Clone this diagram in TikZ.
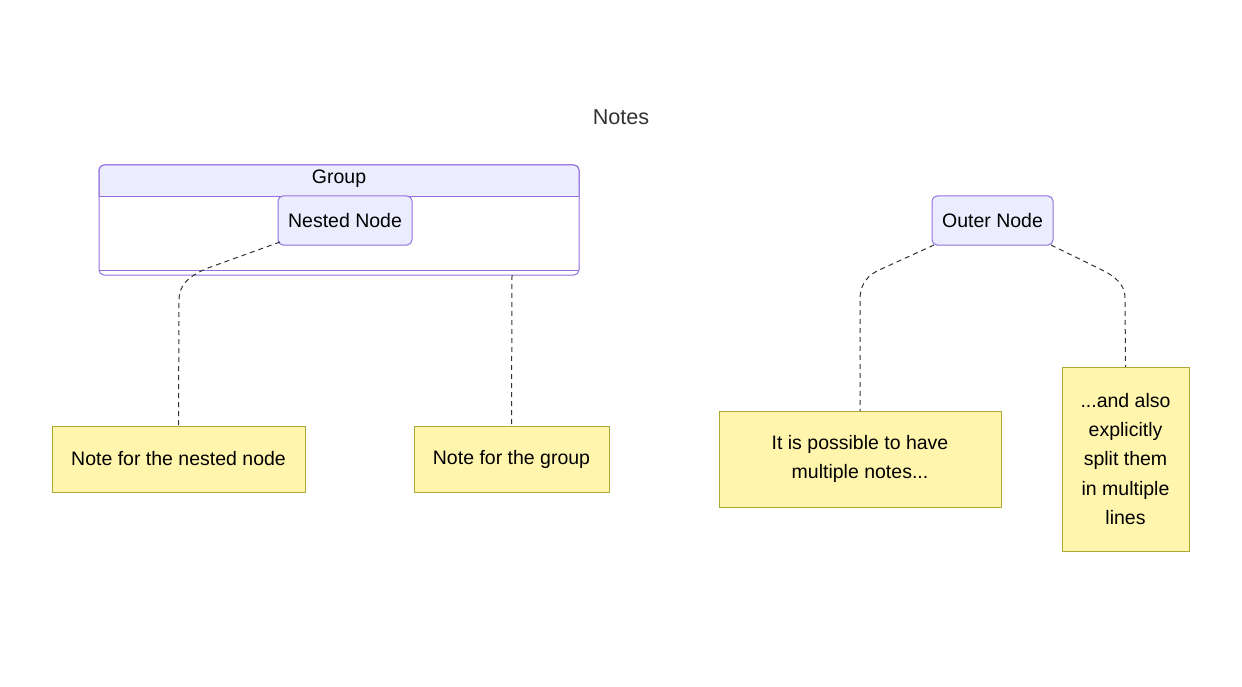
\documentclass[tikz,border=0pt]{standalone}
\usepackage{fontspec}
\setmainfont{Liberation Sans}
\definecolor{nodefill}{HTML}{ECECFF}
\definecolor{nodeborder}{HTML}{9370DB}
\definecolor{notefill}{HTML}{FFF5AD}
\definecolor{noteborder}{HTML}{AAAA33}
\definecolor{txt}{HTML}{333333}
\tikzset{
  x=1pt,y=-1pt,
  every node/.style={font=\fontsize{19.5}{29.3}\selectfont, inner sep=0pt, outer sep=0pt},
  nodebox/.style={draw=nodeborder, fill=nodefill, line width=1pt, rounded corners=5pt, text=black},
  notebox/.style={draw=noteborder, fill=notefill, line width=1pt, text=black, align=center},
  conn/.style={draw=txt, line width=1pt, dash pattern=on 5pt off 4pt}
}
\begin{document}
\begin{tikzpicture}
\useasboundingbox (0,0) rectangle (1242,687);
% title
\node[text=txt, font=\fontsize{21.6}{26}\selectfont] (title) at (621,117) {Notes};
% group
\draw[draw=nodeborder, fill=white, line width=1pt, rounded corners=5pt] (99,165) rectangle (579,275);
\fill[nodefill, rounded corners=5pt] (99.5,197) -- (99.5,165.5) -- (578.5,165.5) -- (578.5,197) -- cycle;
\fill[nodefill] (99.5,185) rectangle (578.5,197);
\draw[draw=nodeborder, line width=1pt, rounded corners=5pt] (99,197) -- (99,165) -- (579,165) -- (579,197);
\draw[draw=nodeborder, line width=1pt] (99,197) -- (579,197);
\draw[draw=nodeborder, line width=1pt] (99,270) -- (579,270);
\node[text=black] (grouplabel) at (339,179) {Group};
\coordinate (groupbottom) at (512,275);
% nodes
\node[nodebox, minimum width=134pt, minimum height=49pt] (nested) at (345,220.5) {Nested Node};
\node[nodebox, minimum width=121pt, minimum height=49pt] (outer) at (992.5,220.5) {Outer Node};
% notes
\node[notebox, minimum width=253pt, minimum height=66pt] (note1) at (178.5,459) {Note for the nested node};
\node[notebox, minimum width=195pt, minimum height=66pt] (note2) at (511.5,459) {Note for the group};
\node[notebox, minimum width=282pt, minimum height=96pt] (note3) at (860,459) {It is possible to have\\multiple notes...};
\node[notebox, minimum width=127pt, minimum height=184pt] (note4) at (1125.5,459) {...and also\\explicitly\\split them\\in multiple\\lines};
% connectors
\coordinate (c1) at (179,300);
\coordinate (c3) at (860,300);
\coordinate (c4) at (1125,298);
\draw[conn] ([xshift=2pt,yshift=3pt]nested.south west) -- (208,268) .. controls (186,277) and (179,287) .. (c1) -- (note1.north);
\draw[conn] (groupbottom) -- (note2.north);
\draw[conn] ([xshift=2pt]outer.south west) -- (877,271) .. controls (864,278) and (860,288) .. (c3) -- (note3.north);
\draw[conn] ([xshift=-2pt]outer.south east) -- (1106,272) .. controls (1120,280) and (1125,288) .. (c4) -- (note4.north);
\end{tikzpicture}
\end{document}
